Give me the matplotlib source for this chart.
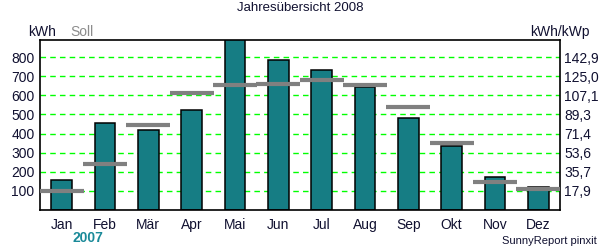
import matplotlib.pyplot as plt

# ============================================================
#   DATA
# ============================================================
months = ["Jan", "Feb", "Mär", "Apr", "Mai", "Jun",
          "Jul", "Aug", "Sep", "Okt", "Nov", "Dez"]
ertrag_kwh = [155, 454, 417, 525, 915, 784, 731, 646, 480, 333, 171, 119]
soll_kwh = [99, 239, 443, 611, 653, 660, 679, 653, 539, 349, 147, 108]
left_ticks = [100, 200, 300, 400, 500, 600, 700, 800]
anlage_kwp = 5.6  # kWh -> kWh/kWp
right_labels = [f"{v / anlage_kwp:.1f}".replace(".", ",") for v in left_ticks]

plt.rcParams["font.family"] = ["Liberation Sans", "DejaVu Sans"]
text_col = "#101030"

fig = plt.figure(figsize=(6, 2.5), dpi=100)
ax = fig.add_axes([40 / 600, 1 - 210 / 250, 520 / 600, 170 / 250])

x = list(range(len(months)))

# grid first
ax.set_axisbelow(True)
ax.yaxis.grid(True, color="#00ff00", linestyle=(0, (4, 3)), linewidth=1)

# bars
ax.bar(x, ertrag_kwh, width=0.47, color="#167d84", edgecolor="black",
       linewidth=1.1, zorder=2)

# Soll markers
ax.hlines(soll_kwh, [i - 0.51 for i in x], [i + 0.51 for i in x],
          color="#808080", linewidth=3, zorder=3)

ax.set_xlim(-0.5, 11.5)
ax.set_ylim(0, 890)
ax.set_xticks(x)
ax.set_xticklabels(months, fontsize=10, color=text_col)
ax.set_yticks(left_ticks)
ax.set_yticklabels([str(v) for v in left_ticks], fontsize=10, color=text_col)
ax.tick_params(axis="both", length=0, pad=4)
ax.tick_params(axis="x", pad=6)

for sp in ax.spines.values():
    sp.set_color("black")
    sp.set_linewidth(1.2)

# right axis kWh/kWp
ax2 = ax.twinx()
ax2.set_ylim(ax.get_ylim())
ax2.set_yticks(left_ticks)
ax2.set_yticklabels(right_labels, fontsize=10, color=text_col)
ax2.tick_params(axis="y", length=0, pad=3)
for sp in ax2.spines.values():
    sp.set_visible(False)

# ============================================================
#   TEXTS
# ============================================================
fig.text(0.5, 1 - 8 / 250, "Jahresübersicht 2008", ha="center", va="center",
         fontsize=9.5, color=text_col)
fig.text(28 / 600, 1 - 32 / 250, "kWh", ha="left", va="center",
         fontsize=10, color=text_col)
fig.text(70 / 600, 1 - 32 / 250, "Soll", ha="left", va="center",
         fontsize=10, color="#8c8c8c")
fig.text(590 / 600, 1 - 32 / 250, "kWh/kWp", ha="right", va="center",
         fontsize=10, color=text_col)
fig.text(88 / 600, 1 - 238 / 250, "2007", ha="center", va="center",
         fontsize=10, fontweight="bold", color="#1a8a99")
fig.text(597 / 600, 1 - 241 / 250, "SunnyReport pinxit", ha="right",
         va="center", fontsize=8, color=text_col)

fig.savefig("out.png", dpi=100)
